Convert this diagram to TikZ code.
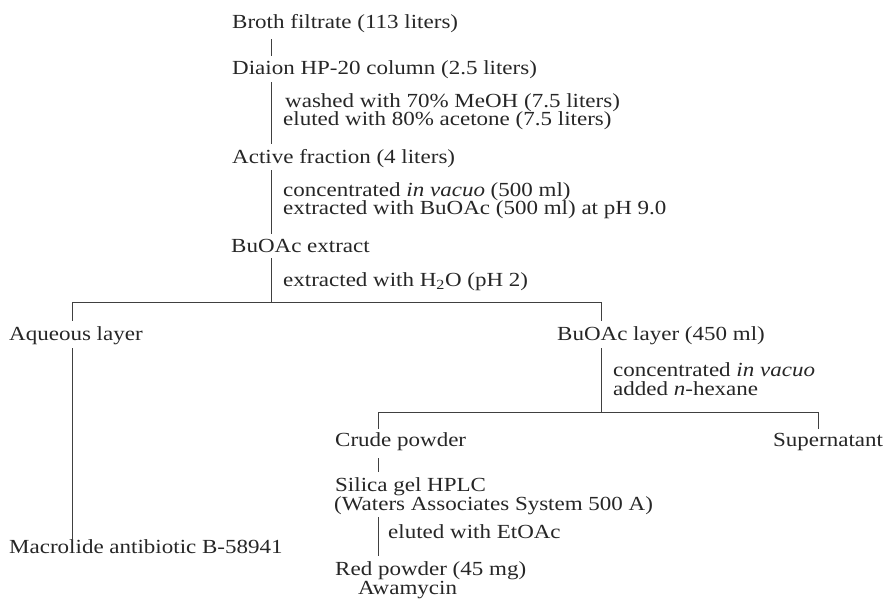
\documentclass[tikz,border=0pt]{standalone}
\usepackage{fontspec}
\setmainfont{Liberation Serif}[FakeStretch=1.15]
\begin{document}
\begin{tikzpicture}[x=1pt,y=-1pt,
  lbl/.style={font=\fontsize{20}{24}\selectfont, text=black!85, anchor=base west, inner sep=0pt, text height=14pt, text depth=4.5pt},
  ln/.style={line width=0.8pt, draw=black!75}]
\useasboundingbox (0,0) rectangle (891,599);
% trunk x positions
\coordinate (t1) at (271,0);
\coordinate (t2) at (72,0);
\coordinate (t3) at (601,0);
\coordinate (t4) at (378,0);
\coordinate (t5) at (818,0);
% nodes
\node[lbl] (broth) at (232,29) {Broth filtrate (113 liters)};
\node[lbl] (diaion) at (232,75) {Diaion HP-20 column (2.5 liters)};
\node[lbl] (wash) at (285,108) {washed with 70\% MeOH (7.5 liters)};
\node[lbl] (elut) at (283,126) {eluted with 80\% acetone (7.5 liters)};
\node[lbl] (active) at (232,164) {Active fraction (4 liters)};
\node[lbl] (conc) at (283,196) {concentrated \textit{in vacuo} (500 ml)};
\node[lbl] (extr) at (283,214) {extracted with BuOAc (500 ml) at pH 9.0};
\node[lbl] (buext) at (231,252) {BuOAc extract};
\node[lbl] (h2o) at (283,286) {extracted with H\textsubscript{2}O (pH 2)};
\node[lbl] (aq) at (9,340) {Aqueous layer};
\node[lbl] (bulay) at (557,340) {BuOAc layer (450 ml)};
\node[lbl] (conc2) at (613,376) {concentrated \textit{in vacuo}};
\node[lbl] (hex) at (613,395) {added \textit{n}-hexane};
\node[lbl] (crude) at (335,446) {Crude powder};
\node[lbl] (super) at (773,446) {Supernatant};
\node[lbl] (silica) at (335,491) {Silica gel HPLC};
\node[lbl] (waters) at (334,510) {(Waters Associates System 500 A)};
\node[lbl] (etoac) at (388,538) {eluted with EtOAc};
\node[lbl] (macro) at (9,553) {Macrolide antibiotic B-58941};
\node[lbl] (red) at (335,575) {Red powder (45 mg)};
\node[lbl] (awa) at (358,594.5) {Awamycin};
% junctions
\coordinate (j1) at (271,302);
\coordinate (j1l) at (72,302);
\coordinate (j1r) at (601,302);
\coordinate (j2) at (601,412);
\coordinate (j2l) at (378,412);
\coordinate (j2r) at (818,412);
% connectors
\draw[ln] ([yshift=-5.5pt]broth.south -| t1) -- ([yshift=5pt]diaion.north -| t1);
\draw[ln] ([yshift=-2.5pt]diaion.south -| t1) -- ([yshift=6pt]active.north -| t1);
\draw[ln] ([yshift=-1.5pt]active.south -| t1) -- ([yshift=4pt]buext.north -| t1);
\draw[ln] ([yshift=-1.5pt]buext.south -| t1) -- (j1);
\draw[ln] (j1l) -- (j1r);
\draw[ln] (j1l) -- ([yshift=5pt]aq.north -| t2);
\draw[ln] (j1r) -- ([yshift=5pt]bulay.north -| t3);
\draw[ln] ([yshift=-3.5pt]aq.south -| t2) -- (macro.north -| t2);
\draw[ln] ([yshift=-3.5pt]bulay.south -| t3) -- (j2);
\draw[ln] (j2l) -- (j2r);
\draw[ln] (j2l) -- ([yshift=3pt]crude.north -| t4);
\draw[ln] (j2r) -- ([yshift=3pt]super.north -| t5);
\draw[ln] ([yshift=-7.5pt]crude.south -| t4) -- ([yshift=5pt]silica.north -| t4);
\draw[ln] ([yshift=-2.5pt]waters.south -| t4) -- ([yshift=5pt]red.north -| t4);
\end{tikzpicture}
\end{document}
